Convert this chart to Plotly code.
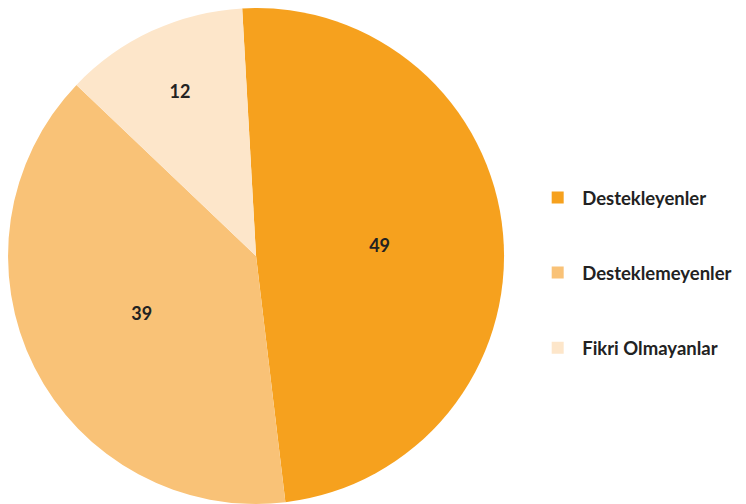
import plotly.graph_objects as go

labels = ["Destekleyenler", "Desteklemeyenler", "Fikri Olmayanlar"]
values = [49, 39, 12]
colors = ["#F6A11E", "#F9C277", "#FDE6CA"]

FONT = "Lato, Open Sans, sans-serif"

# pad legend labels with empty lines to spread the entries apart
legend_labels = [f"<br>{l}<br> " for l in labels]

fig = go.Figure(go.Pie(
    labels=legend_labels,
    values=values,
    marker=dict(colors=colors, line=dict(width=0)),
    sort=False,
    direction="clockwise",
    rotation=-3.2,
    textinfo="value",
    textposition="inside",
    insidetextorientation="horizontal",
    textfont=dict(family=FONT, size=18, color="#222222", weight="bold"),
    domain=dict(x=[0, 0.665], y=[0, 1]),
    hoverinfo="label+value",
))

fig.update_layout(
    width=746,
    height=504,
    margin=dict(l=0, r=0, t=0, b=8),
    paper_bgcolor="white",
    plot_bgcolor="white",
    showlegend=True,
    legend=dict(
        x=0.704, y=0.466, xanchor="left", yanchor="middle",
        font=dict(family=FONT, size=18.5, color="#222222", weight="bold"),
        bgcolor="rgba(0,0,0,0)",
        traceorder="normal",
        itemwidth=39,
    ),
)

fig.write_html("out.html")
